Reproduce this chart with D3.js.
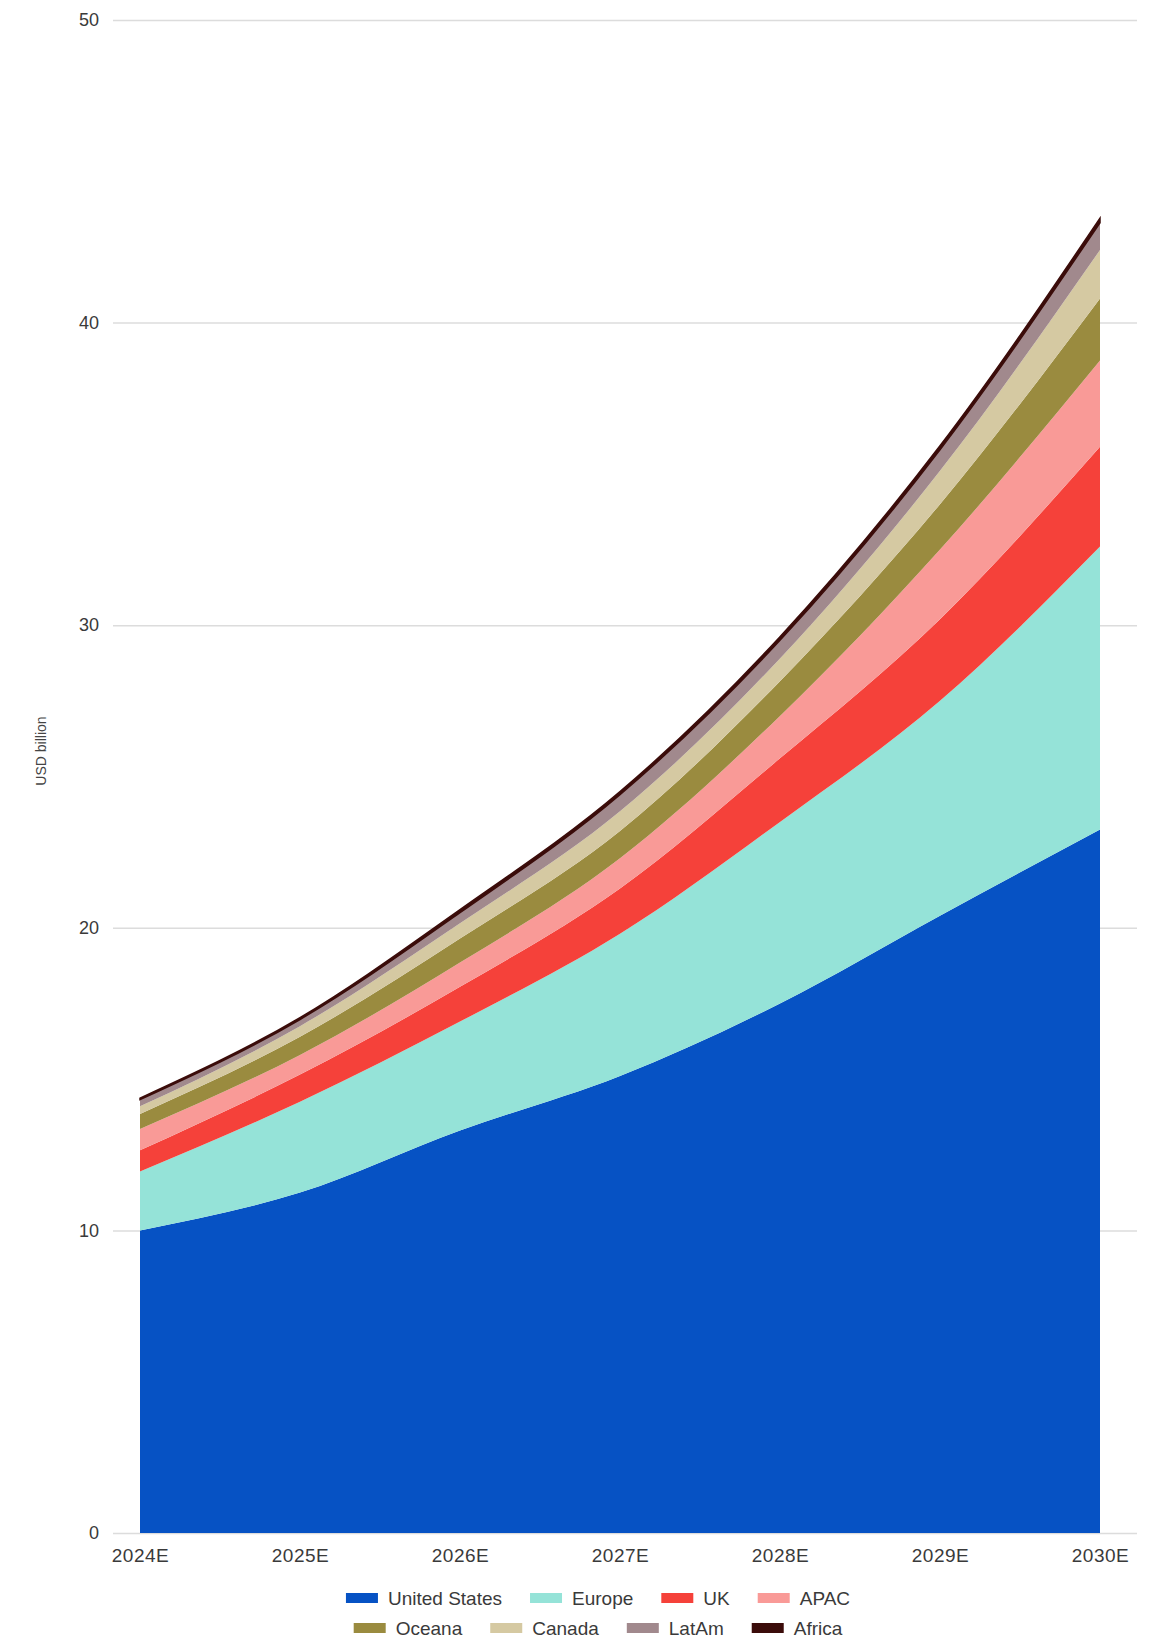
<!DOCTYPE html>
<html>
<head>
<meta charset="utf-8">
<script src="https://cdn.jsdelivr.net/npm/d3@7"></script>
<style>
    body { margin: 0; background: #fff; }
    svg { display: block; font-family: 'Liberation Sans', Arial, sans-serif; }
</style>
</head>
<body>
<div class="container"></div>
<script>
const years = ['2024E', '2025E', '2026E', '2027E', '2028E', '2029E', '2030E'];
const regions = ['United States', 'Europe', 'UK', 'APAC', 'Oceana', 'Canada', 'LatAm', 'Africa'];

// USD billion
const unitedStates = [10.0, 11.25, 13.3, 15.1, 17.5, 20.4, 23.25];
const europe = [1.95, 3.0, 3.6, 4.7, 6.0, 7.1, 9.35];
const uk = [0.7, 0.9, 1.15, 1.5, 2.1, 2.7, 3.3];
const apac = [0.7, 0.65, 0.8, 1.0, 1.4, 2.3, 2.85];
const oceana = [0.5, 0.6, 0.8, 0.9, 1.15, 1.5, 2.05];
const canada = [0.25, 0.35, 0.5, 0.65, 0.75, 1.1, 1.6];
const latam = [0.22, 0.22, 0.35, 0.55, 0.6, 0.7, 0.9];
const africa = [0.05, 0.06, 0.1, 0.1, 0.12, 0.13, 0.15];

const yTicks = [0, 10, 20, 30, 40, 50];
const colors = ['#0652c4', '#95e3d8', '#f5413a', '#f99a97', '#9a8b3f', '#d5c9a2', '#a1898d', '#3b0c0a'];

const w = 1155;
const h = 1640;

const series = [unitedStates, europe, uk, apac, oceana, canada, latam, africa];
const table = years.map((yr, i) => {
    const row = { year: yr };
    regions.forEach((r, j) => row[r] = series[j][i]);
    return row;
});

const svg = d3.select('.container')
    .append('svg')
    .attr('width', w)
    .attr('height', h)
    .attr('viewBox', [0, 0, w, h]);

const x = d3.scalePoint(years, [140, 1100]);
const y = d3.scaleLinear([0, 50], [1533, 20]);

// gridlines + y labels
svg.append('g')
    .attr('transform', 'translate(113,0)')
    .call(d3.axisLeft(y).tickValues(yTicks).tickSize(-1024).tickPadding(14))
    .call(g => g.select('.domain').remove())
    .call(g => g.selectAll('.tick line').attr('stroke', '#dcdcdc').attr('stroke-width', 1.5))
    .call(g => g.selectAll('.tick text')
        .attr('fill', '#3a3a3a')
        .style('font-size', '18px'));

const stack = d3.stack().keys(regions)(table);

const area = d3.area()
    .x(d => x(d.data.year))
    .y0(d => y(d[0]))
    .y1(d => y(d[1]))
    .curve(d3.curveMonotoneX);

svg.append('g')
    .selectAll('path')
    .data(stack)
    .join('path')
    .attr('fill', (d, i) => colors[i])
    .attr('stroke', (d, i) => i === regions.length - 1 ? colors[i] : 'none')
    .attr('stroke-width', 1.5)
    .attr('d', area);

// x labels
svg.append('g')
    .attr('transform', `translate(0, ${y(0)})`)
    .call(d3.axisBottom(x).tickSize(0).tickPadding(16))
    .call(g => g.select('.domain').remove())
    .call(g => g.selectAll('.tick text')
        .attr('fill', '#3a3a3a')
        .style('font-size', '19px')
        .style('letter-spacing', '0.5px'));

// y title
svg.append('text')
    .attr('transform', 'translate(46, 751) rotate(-90)')
    .attr('text-anchor', 'middle')
    .attr('fill', '#444')
    .style('font-size', '14px')
    .text('USD billion');

// legend, two centred rows
const rows = [regions.slice(0, 4), regions.slice(4)];
const legendCenter = 598;
rows.forEach((row, r) => {
    const g = svg.append('g');
    let cx = 0;
    row.forEach(name => {
        const it = g.append('g');
        it.append('rect')
            .attr('x', 0).attr('y', -5)
            .attr('width', 32).attr('height', 10)
            .attr('fill', colors[regions.indexOf(name)]);
        const t = it.append('text')
            .attr('x', 42).attr('dy', '0.35em')
            .attr('fill', '#3a3a3a')
            .style('font-size', '19px')
            .text(name);
        const wd = 42 + t.node().getComputedTextLength();
        it.attr('transform', `translate(${cx},0)`);
        cx += wd + 28;
    });
    const total = cx - 28;
    g.attr('transform', `translate(${legendCenter - total / 2}, ${1598 + r * 30})`);
});
</script>
</body>
</html>
